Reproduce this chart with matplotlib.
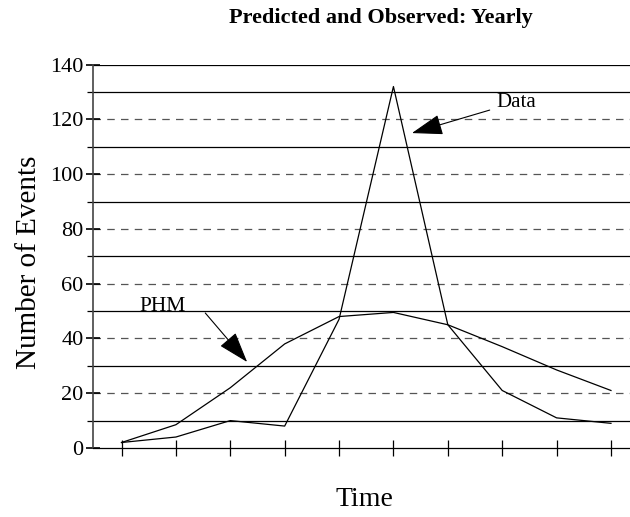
import numpy as np
import matplotlib.pyplot as plt

# valeurs
periods = np.arange(10)
observed = [2, 4, 10, 8, 47, 132, 45, 21, 11, 9]
predicted = [2, 8.5, 22, 38, 48, 49.5, 45, 37, 28.5, 21]
y_ticks = [0, 20, 40, 60, 80, 100, 120, 140]

plt.rcParams['font.family'] = ['Liberation Serif', 'DejaVu Serif']

fig = plt.figure(figsize=(6.3, 5.17), dpi=100)
ax = fig.add_axes([0.148, 0.1335, 0.852, 0.7415])

# lignes horizontales : pleines aux dizaines impaires, tirets aux multiples de 20
for v in range(10, 141, 10):
    if v % 20 == 10 or v == 140:
        ax.axhline(v, color='black', lw=0.9, zorder=1)
    else:
        ax.axhline(v, color='#555555', lw=0.9, ls=(0, (6, 5)), zorder=1)

ax.plot(periods, observed, color='black', lw=0.9, zorder=3)
ax.plot(periods, predicted, color='black', lw=0.9, zorder=3)

ax.set_xlim(-0.52, 9.35)
ax.set_ylim(0, 140)
ax.set_xticks(periods)
ax.set_xticklabels([])
ax.set_yticks(y_ticks)
ax.set_yticks(range(10, 140, 20), minor=True)
ax.tick_params(axis='x', direction='inout', length=11, width=0.9)
ax.tick_params(axis='y', which='major', direction='inout', length=10, width=1.2,
               labelsize=16, pad=2)
ax.tick_params(axis='y', which='minor', direction='out', length=4, width=0.9)

for s in ['top', 'right']:
    ax.spines[s].set_visible(False)
ax.spines['left'].set_linewidth(1.2)
ax.spines['left'].set_color('#444444')
ax.spines['bottom'].set_linewidth(0.9)

arrow = dict(arrowstyle='-|>,head_length=1.95,head_width=0.65', color='black',
             lw=0.8, shrinkA=0, shrinkB=0, mutation_scale=10)
ax.annotate('', xy=(5.34, 115), xytext=(6.77, 123.4), arrowprops=arrow)
ax.text(6.9, 126.3, 'Data', fontsize=15, ha='left', va='center')
ax.annotate('', xy=(2.31, 31.4), xytext=(1.54, 49.3), arrowprops=arrow)
ax.text(0.75, 51.8, 'PHM', fontsize=15.5, ha='center', va='center')

fig.text(0.605, 0.965, 'Predicted and Observed: Yearly', fontsize=16,
         fontweight='bold', ha='center', va='center')
fig.text(0.046, 0.493, 'Number of Events', fontsize=21, rotation=90,
         ha='center', va='center')
fig.text(0.579, 0.033, 'Time', fontsize=20, ha='center', va='center')

fig.savefig('out.png', dpi=100)
